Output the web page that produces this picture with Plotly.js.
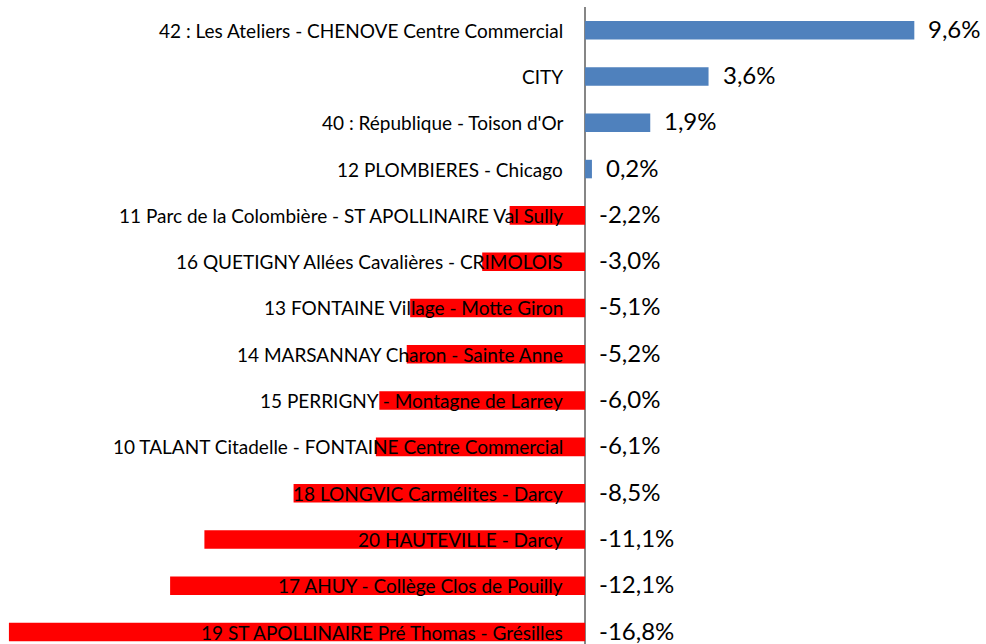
<!DOCTYPE html>
<html>
<head>
<meta charset="utf-8">
<script src="https://cdn.plot.ly/plotly-3.0.1.min.js"></script>
<style>html,body{margin:0;padding:0;background:#fff;}#chart{width:986px;height:644px;}</style>
</head>
<body>
<div id="chart"></div>
<script>
const categories = [
  "42 : Les Ateliers - CHENOVE Centre Commercial",
  "CITY",
  "40 : République - Toison d'Or",
  "12 PLOMBIERES - Chicago",
  "11 Parc de la Colombière - ST APOLLINAIRE Val Sully",
  "16 QUETIGNY Allées Cavalières - CRIMOLOIS",
  "13 FONTAINE Village - Motte Giron",
  "14 MARSANNAY Charon - Sainte Anne",
  "15 PERRIGNY - Montagne de Larrey",
  "10 TALANT Citadelle - FONTAINE Centre Commercial",
  "18 LONGVIC Carmélites - Darcy",
  "20 HAUTEVILLE - Darcy",
  "17 AHUY - Collège Clos de Pouilly",
  "19 ST APOLLINAIRE Pré Thomas - Grésilles"
];
const values = [9.6, 3.6, 1.9, 0.2, -2.2, -3.0, -5.1, -5.2, -6.0, -6.1, -8.5, -11.1, -12.1, -16.8];

const fmt = v => v.toFixed(1).replace('.', ',') + '%';
const colors = values.map(v => v >= 0 ? '#4F81BD' : '#FF0000');

const trace = {
  type: 'bar',
  orientation: 'h',
  x: values,
  y: categories,
  width: 0.4,
  marker: {color: colors, line: {width: 0}},
  hoverinfo: 'x+y'
};

const annotations = [];
categories.forEach((c, i) => {
  annotations.push({
    x: 0, y: c, xref: 'x', yref: 'y',
    text: c, showarrow: false,
    xanchor: 'right', yanchor: 'middle', xshift: -20,
    font: {family: 'Lato, sans-serif', size: 19, color: '#000'}
  });
  const v = values[i];
  annotations.push({
    x: v >= 0 ? v : 0, y: c, xref: 'x', yref: 'y',
    text: fmt(v), showarrow: false,
    xanchor: 'left', yanchor: 'middle', xshift: v >= 0 ? 13 : 13, yshift: 2,
    borderpad: 0,
    font: {family: 'Lato, sans-serif', size: 24, color: '#000'}
  });
});

const layout = {
  width: 986, height: 644,
  margin: {l: 0, r: 0, t: 7, b: 0, pad: 0},
  paper_bgcolor: '#fff', plot_bgcolor: '#fff',
  showlegend: false,
  xaxis: {
    range: [-17.06, 11.69],
    showgrid: false, showticklabels: false, ticks: '',
    zeroline: true, zerolinecolor: '#868686', zerolinewidth: 2,
    showline: false
  },
  yaxis: {
    type: 'category',
    range: [13.257, -0.5],
    showgrid: false, showticklabels: false, ticks: '',
    zeroline: false, showline: false
  },
  annotations: annotations
};

Plotly.newPlot('chart', [trace], layout, {displayModeBar: false, staticPlot: true});
</script>
</body>
</html>
